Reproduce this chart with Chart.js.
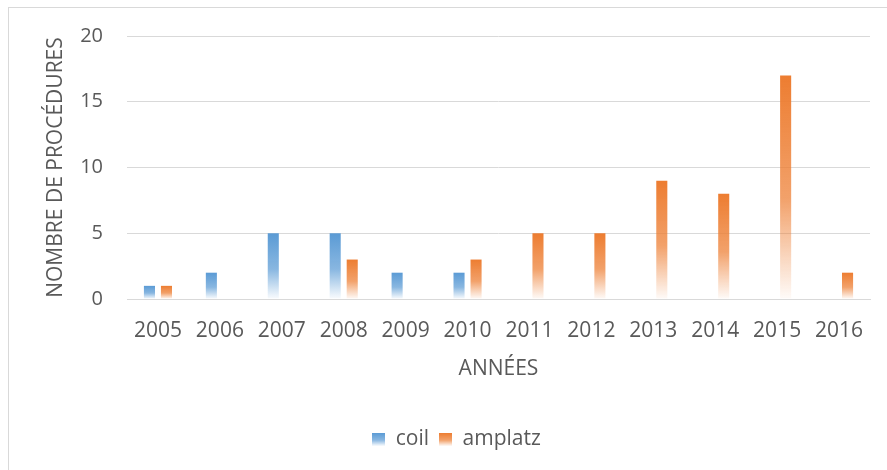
<!DOCTYPE html>
<html>
<head>
<meta charset="utf-8">
<script src="https://cdn.jsdelivr.net/npm/chart.js@4"></script>
<style>
html,body{margin:0;padding:0;background:#fff;overflow:hidden}
#wrap{position:absolute;left:0;top:0;width:887px;height:470px}
#frame{position:absolute;left:8px;top:7px;width:900px;height:500px;border:1px solid #D9D9D9;box-sizing:border-box}
</style>
</head>
<body>
<div id="frame"></div>
<div id="wrap"><canvas id="chart" width="887" height="470"></canvas></div>
<script>
// data
const years = ["2005","2006","2007","2008","2009","2010","2011","2012","2013","2014","2015","2016"]
const coil = [1,2,5,5,2,2,0,0,0,0,0,0]
const amplatz = [1,0,0,3,0,3,5,5,9,8,17,2]

const BLUE = [91,155,213]
const ORANGE = [237,125,49]
const TXT = "#595959"
const FONT = "'Open Sans', sans-serif"

function rgba(c, a){ return "rgba(" + c[0] + "," + c[1] + "," + c[2] + "," + a + ")" }

function addStops(g, c){
  g.addColorStop(0, rgba(c,1))
  g.addColorStop(0.55, rgba(c,0.72))
  g.addColorStop(0.82, rgba(c,0.3))
  g.addColorStop(1, rgba(c,0.03))
  return g
}

// one gradient per bar, top of bar -> zero line
function barFill(c){
  return function(ctx){
    const chart = ctx.chart
    if (!chart.chartArea || ctx.type !== "data") return rgba(c,1)
    const y = chart.scales.y
    const top = y.getPixelForValue(ctx.raw)
    const bottom = y.getPixelForValue(0)
    if (bottom - top < 1) return rgba(c,1)
    return addStops(chart.ctx.createLinearGradient(0, top, 0, bottom), c)
  }
}

function legendBox(c){
  const cv = document.createElement("canvas")
  cv.width = 13; cv.height = 13
  const x = cv.getContext("2d")
  x.fillStyle = addStops(x.createLinearGradient(0,0,0,13), c)
  x.fillRect(0,0,13,13)
  return cv
}

new Chart(document.getElementById("chart"),{
  type:"bar",
  data:{
    labels:years,
    datasets:[
      {label:"coil", data:coil, backgroundColor:barFill(BLUE), pointStyle:legendBox(BLUE)},
      {label:"amplatz", data:amplatz, backgroundColor:barFill(ORANGE), pointStyle:legendBox(ORANGE)}
    ]
  },
  options:{
    responsive:false,
    animation:false,
    categoryPercentage:0.55,
    barPercentage:0.65,
    layout:{padding:{left:43,right:17,top:35,bottom:10}},
    plugins:{
      tooltip:{enabled:false},
      legend:{
        position:"bottom",
        labels:{usePointStyle:true, boxWidth:13, boxHeight:13, padding:10,
          color:TXT, font:{family:FONT,size:21}}
      }
    },
    scales:{
      x:{
        grid:{display:false, drawTicks:false},
        border:{color:"#D9D9D9", width:1},
        ticks:{color:TXT, font:{family:FONT,size:21}, padding:19, maxRotation:0},
        title:{display:true, text:"ANNÉES", color:TXT, font:{family:FONT,size:21}, padding:{top:0,bottom:37}},
        afterFit(s){ s.height = 120 }
      },
      y:{
        min:0, max:20,
        grid:{color:"#D9D9D9", drawTicks:false},
        border:{display:false},
        ticks:{stepSize:5, color:TXT, font:{family:FONT,size:20}, padding:24},
        title:{display:true, text:"NOMBRE DE PROCÉDURES", color:TXT, font:{family:FONT,size:21}, padding:{top:0,bottom:0}},
        afterFit(s){ s.width = 84 }
      }
    }
  }
})
</script>
</body>
</html>
